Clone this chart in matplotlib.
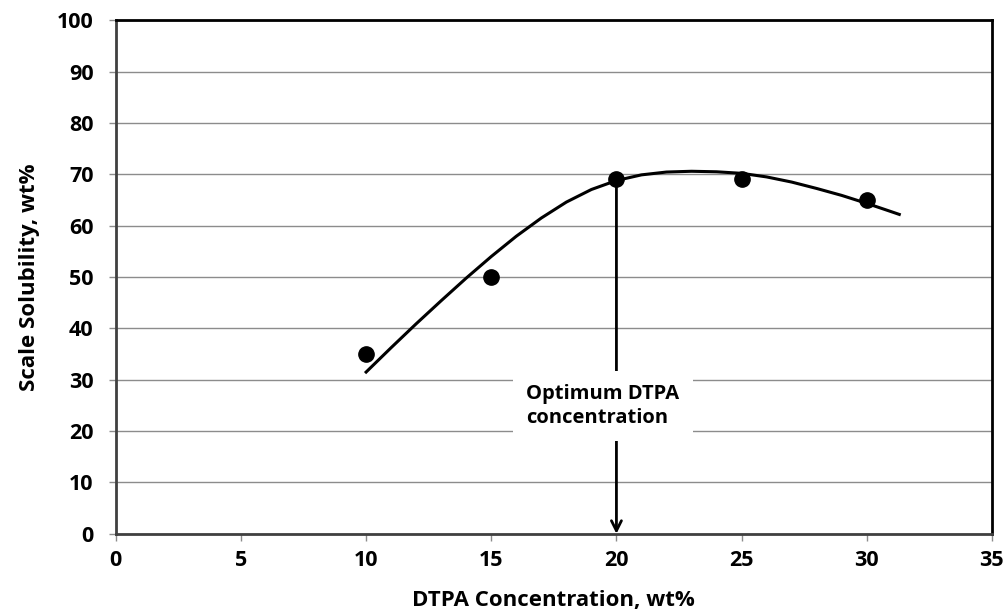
import numpy as np
import matplotlib.pyplot as plt

# measured points
conc = [10, 15, 20, 25, 30]
solubility = [35, 50, 69, 69, 65]

# trend line
trend_x = [10, 11, 12, 13, 14, 15, 16, 17, 18, 19, 20, 21, 22, 23, 24, 25, 26, 27, 28, 29, 30, 31, 31.3]
trend_y = [31.5, 36.25, 40.9, 45.4, 49.8, 54.0, 57.95, 61.5, 64.6, 67.05, 68.8, 69.9, 70.45, 70.6,
           70.5, 70.2, 69.5, 68.5, 67.25, 65.9, 64.35, 62.7, 62.2]

xticks = [0, 5, 10, 15, 20, 25, 30, 35]
yticks = [0, 10, 20, 30, 40, 50, 60, 70, 80, 90, 100]

plt.rcParams['font.family'] = ['Open Sans', 'DejaVu Sans']
plt.rcParams['font.weight'] = 'bold'

fig = plt.figure(figsize=(10.07, 6.15), dpi=100)
ax = fig.add_axes([0.115, 0.132, 0.87, 0.835])

ax.grid(axis='y', color='#8c8c8c', linewidth=1.0, zorder=0)
ax.set_axisbelow(True)

ax.plot(trend_x, trend_y, color='black', linewidth=2.2, zorder=3)
ax.plot(conc, solubility, 'o', color='black', markersize=11, zorder=4)

# optimum arrow
ax.annotate('', xy=(20, 0), xytext=(20, 69),
            arrowprops=dict(arrowstyle='->', color='black', lw=2,
                            mutation_scale=18, shrinkA=0, shrinkB=0), zorder=2)
ax.text(16.4, 24.9, 'Optimum DTPA\nconcentration', ha='left', va='center',
        fontsize=14.5, fontweight='bold', linespacing=1.3, zorder=5,
        bbox=dict(boxstyle='square,pad=0.65', fc='white', ec='none'))

ax.set_xlim(0, 35)
ax.set_ylim(0, 100)
ax.set_xticks(xticks)
ax.set_yticks(yticks)
ax.tick_params(axis='both', direction='out', length=5, color='#8c8c8c',
               labelsize=15.5, width=1)
ax.tick_params(axis='x', pad=7)
ax.tick_params(axis='y', pad=11)

for s in ['top', 'right']:
    ax.spines[s].set_color('black')
    ax.spines[s].set_linewidth(2)
for s in ['left', 'bottom']:
    ax.spines[s].set_color('#404040')
    ax.spines[s].set_linewidth(2)

ax.set_xlabel('DTPA Concentration, wt%', fontsize=16, fontweight='bold', labelpad=13)
ax.set_ylabel('Scale Solubility, wt%', fontsize=16, fontweight='bold', labelpad=12)

fig.savefig('out.png', dpi=100)
